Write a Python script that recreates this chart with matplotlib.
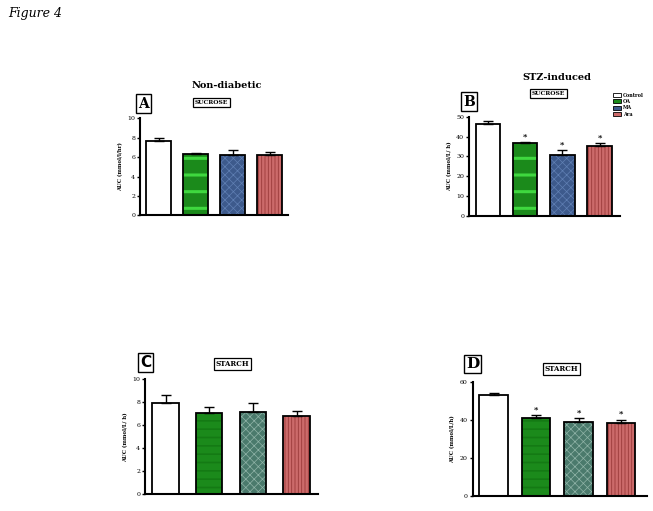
import matplotlib
matplotlib.use("Agg")
import matplotlib.pyplot as plt
from matplotlib.patches import Patch

W, H = 653, 511

groups = ["Control", "OA", "MA", "Ara"]

# Panel values (mean, upper error)
a_vals = [7.65, 6.3, 6.25, 6.2]
a_err = [0.3, 0.12, 0.45, 0.3]
b_vals = [46.2, 36.6, 30.7, 35.2]
b_err = [1.5, 0.9, 2.4, 1.7]
c_vals = [7.97, 7.04, 7.16, 6.78]
c_err = [0.66, 0.52, 0.81, 0.46]
d_vals = [52.8, 41.0, 38.6, 38.4]
d_err = [1.4, 1.4, 2.4, 1.6]
b_sig = [False, True, True, True]
d_sig = [False, True, True, True]

serif = "DejaVu Serif"

fig = plt.figure(figsize=(W / 100, H / 100), dpi=100)
fig.patch.set_facecolor("white")


def px_axes(x0, x1, y_top, y_bot):
    return fig.add_axes([x0 / W, 1 - y_bot / H, (x1 - x0) / W, (y_bot - y_top) / H])


def fig_text(x, y, s, **kw):
    fig.text(x / W, 1 - y / H, s, **kw)


styles_sucrose = [
    dict(face="white", hatch=None, hc=None, hlw=1),
    dict(face="#1b8a1b", hatch="-", hc="#3fd83f", hlw=2.2),
    dict(face="#3d5a8c", hatch="xxxx", hc="#6080b4", hlw=0.5),
    dict(face="#cc6a6a", hatch="|||||", hc="#9a3a3a", hlw=0.6),
]
styles_starch = [
    dict(face="white", hatch=None, hc=None, hlw=1),
    dict(face="#1b8a1b", hatch="--", hc="#147a14", hlw=1.2),
    dict(face="#4a7a6c", hatch="xxxx", hc="#90b4a8", hlw=0.5),
    dict(face="#cc6a6a", hatch="|||||", hc="#9a3a3a", hlw=0.6),
]


def panel(ax, vals, errs, styles, ymax, yticks, xlim, width, ylabel, sig=None):
    xs = list(range(len(vals)))
    for i, (v, st) in enumerate(zip(vals, styles)):
        with plt.rc_context({"hatch.linewidth": st["hlw"]}):
            if st["hatch"]:
                ax.bar(xs[i], v, width=width, color=st["face"], edgecolor=st["hc"],
                       hatch=st["hatch"], linewidth=0, zorder=2)
            else:
                ax.bar(xs[i], v, width=width, color=st["face"], linewidth=0, zorder=2)
        ax.bar(xs[i], v, width=width, fill=False, edgecolor="black", linewidth=1.3, zorder=3)
    ax.errorbar(xs, vals, yerr=[[0] * len(vals), errs], fmt="none", ecolor="black",
                elinewidth=1.0, capsize=3.5, capthick=1.0, zorder=4)
    if sig:
        for i, s in enumerate(sig):
            if s:
                ax.text(xs[i], vals[i] + errs[i] + ymax * 0.015, "*", ha="center", va="bottom",
                        fontsize=6, fontweight="bold", family=serif)
    ax.set_ylim(0, ymax)
    ax.set_xlim(*xlim)
    ax.set_yticks(yticks)
    ax.set_xticks([])
    for sp in ["top", "right"]:
        ax.spines[sp].set_visible(False)
    ax.spines["left"].set_linewidth(1.5)
    ax.spines["bottom"].set_linewidth(1.5)
    ax.tick_params(axis="y", labelsize=4.5, width=1, length=2.5, pad=1)
    for lab in ax.get_yticklabels():
        lab.set_family(serif)
    ax.set_ylabel(ylabel, fontsize=3.8, fontweight="bold", family=serif, labelpad=3)
    ax.set_facecolor("none")


axA = px_axes(140, 288, 118.3, 215.3)
panel(axA, a_vals, a_err, styles_sucrose, 10, [0, 2, 4, 6, 8, 10], (-0.51, 3.5), 0.68,
      "AUC (mmol/l/hr)")
axB = px_axes(469, 620, 116.7, 216)
panel(axB, b_vals, b_err, styles_sucrose, 50, [0, 10, 20, 30, 40, 50], (-0.51, 3.55), 0.66,
      "AUC (mmol/L/ h)", b_sig)
axC = px_axes(145, 318, 379.3, 494.3)
panel(axC, c_vals, c_err, styles_starch, 10, [0, 2, 4, 6, 8, 10], (-0.47, 3.49), 0.6,
      "AUC (mmol/L/ h)")
axD = px_axes(472.7, 646.7, 381.7, 495.7)
panel(axD, d_vals, d_err, styles_starch, 60, [0, 20, 40, 60], (-0.49, 3.6), 0.67,
      "AUC (mmol/L/h)", d_sig)

# Figure label
fig_text(8, 14, "Figure 4", fontsize=9, style="italic", family=serif, va="center", ha="left")

# Titles
fig_text(227, 85, "Non-diabetic", fontsize=7, fontweight="bold", family=serif, ha="center", va="center")
fig_text(557, 77, "STZ-induced", fontsize=7, fontweight="bold", family=serif, ha="center", va="center")

letter_box = dict(boxstyle="square,pad=0.15", facecolor="white", edgecolor="black", linewidth=1.0)
small_box = dict(boxstyle="square,pad=0.3", facecolor="white", edgecolor="black", linewidth=0.9)

fig_text(143.5, 103.5, "A", fontsize=10, fontweight="bold", family=serif, ha="center", va="center", bbox=letter_box)
fig_text(469, 101.5, "B", fontsize=10, fontweight="bold", family=serif, ha="center", va="center", bbox=letter_box)
fig_text(145.5, 362.5, "C", fontsize=11, fontweight="bold", family="DejaVu Sans", ha="center", va="center", bbox=letter_box)
fig_text(472.5, 364, "D", fontsize=11, fontweight="bold", family=serif, ha="center", va="center", bbox=letter_box)

fig_text(211.5, 102.5, "SUCROSE", fontsize=4.3, fontweight="bold", family=serif, ha="center", va="center", bbox=small_box)
fig_text(548.5, 93.5, "SUCROSE", fontsize=4.3, fontweight="bold", family=serif, ha="center", va="center", bbox=small_box)
fig_text(232.5, 364, "STARCH", fontsize=5, fontweight="bold", family=serif, ha="center", va="center", bbox=small_box)
fig_text(561.5, 369, "STARCH", fontsize=5, fontweight="bold", family=serif, ha="center", va="center", bbox=small_box)

# Legend for panel B
handles = [Patch(facecolor=st["face"], edgecolor="black", linewidth=0.6) for st in styles_sucrose]
leg = fig.legend(handles, groups, loc="upper left", bbox_to_anchor=(610 / W, 1 - 90 / H),
                 frameon=False, handlelength=1.6, handleheight=0.9,
                 labelspacing=0.25, handletextpad=0.4, borderpad=0.1,
                 prop={"family": serif, "weight": "bold", "size": 3.5})

fig.savefig("out.png", dpi=100, facecolor="white")
